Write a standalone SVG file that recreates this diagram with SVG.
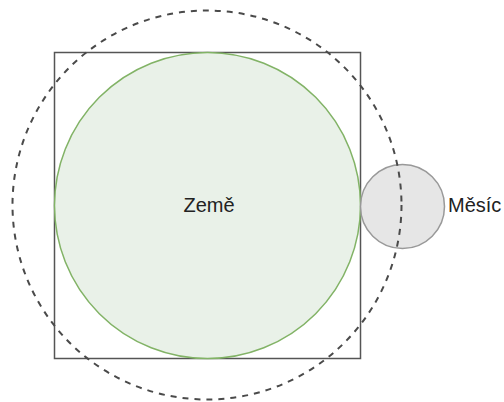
<svg xmlns="http://www.w3.org/2000/svg" width="504" height="402" viewBox="0 0 504 402">
<style>
.lbl{font-family:"Liberation Sans",Arial,sans-serif;font-size:20px;fill:#222222}
</style>
<rect width="504" height="402" fill="#ffffff"/>
<g id="square"><rect x="54.5" y="52.5" width="306" height="306" fill="none" stroke="#555555" stroke-width="1.5"/></g>
<g id="zeme">
<circle cx="207.5" cy="205.5" r="153" fill="#e9f1e8" stroke="#82b366" stroke-width="1.5"/>
<text class="lbl" x="209" y="212" text-anchor="middle">Země</text>
</g>
<g id="mesic">
<circle cx="402.5" cy="206.5" r="42" fill="#e6e6e6" stroke="#999999" stroke-width="1.5"/>
<text class="lbl" x="448" y="212">Měsíc</text>
</g>
<g id="orbit"><circle cx="207" cy="205" r="194.5" fill="none" stroke="#4a4a4a" stroke-width="2" stroke-dasharray="6 6"/></g>
<g id="connectors"/>
</svg>
